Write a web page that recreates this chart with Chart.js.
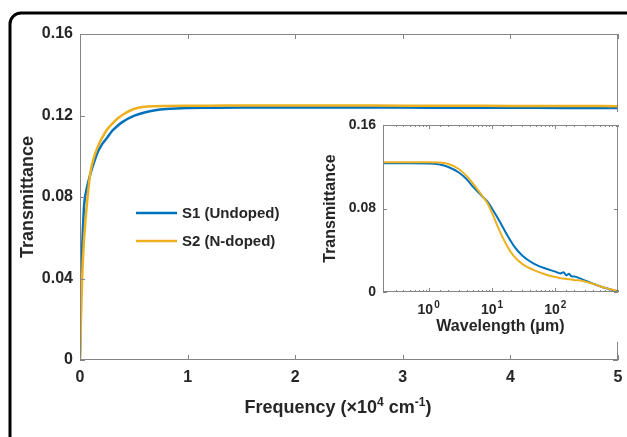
<!DOCTYPE html>
<html>
<head>
<meta charset="utf-8">
<script src="https://cdn.jsdelivr.net/npm/chart.js@4.4.1/dist/chart.umd.min.js"></script>
<style>
  body { margin: 0; background: #fff; }
  #wrap { position: relative; width: 627px; height: 437px; overflow: hidden; }
  #mainChart { position: absolute; left: 0; top: 0; }
  #insetChart { position: absolute; left: 318px; top: 112px; background: #fff; }
</style>
</head>
<body>
<div id="wrap">
  <canvas id="mainChart" width="627" height="437"></canvas>
  <canvas id="insetChart" width="301" height="230"></canvas>
</div>
<script>
// main panel: transmittance vs frequency (x10^4 cm-1)
const freq = [0, 0.005, 0.01, 0.02, 0.03, 0.04, 0.06, 0.08, 0.1, 0.13,
              0.16, 0.2, 0.25, 0.3, 0.35, 0.4, 0.5, 0.6, 0.7, 0.8,
              1.0, 1.2, 1.5, 2, 2.5, 3, 3.5, 4, 4.5, 5];
const s1Main = [0.002, 0.022, 0.036, 0.055, 0.068, 0.077, 0.0835, 0.088, 0.092, 0.097,
                0.1015, 0.1055, 0.109, 0.1125, 0.115, 0.117, 0.1198, 0.1215, 0.1226, 0.1232,
                0.1237, 0.1238, 0.1239, 0.1239, 0.1239, 0.1239, 0.1238, 0.1238, 0.1237, 0.1237];
const s2Main = [0, 0.01, 0.022, 0.04, 0.052, 0.061, 0.074, 0.085, 0.093, 0.0995,
                0.104, 0.1085, 0.113, 0.116, 0.1185, 0.1205, 0.1232, 0.1243, 0.1246, 0.1247,
                0.1248, 0.1248, 0.1249, 0.1249, 0.1249, 0.1248, 0.1248, 0.1247, 0.1247, 0.1246];

// inset: transmittance vs wavelength (um), log axis
const wl = [0.19, 0.5, 1, 1.5, 2, 3, 4, 5, 7, 8.5,
            10, 13, 17, 22, 30, 45, 70, 100, 120, 135,
            150, 165, 180, 200, 250, 300, 400, 600, 980];
const s1Inset = [0.1233, 0.1233, 0.1232, 0.1222, 0.1200, 0.1145, 0.1080, 0.1010, 0.0918, 0.0865,
                 0.0800, 0.0685, 0.0555, 0.0445, 0.0350, 0.0275, 0.0225, 0.0195, 0.0178, 0.0190,
                 0.0160, 0.0175, 0.0150, 0.0148, 0.0128, 0.0108, 0.0078, 0.0040, 0.0005];
const s2Inset = [0.1242, 0.1242, 0.1242, 0.1240, 0.1228, 0.1178, 0.1110, 0.1041, 0.0922, 0.0850,
                 0.0760, 0.0595, 0.0450, 0.0345, 0.0270, 0.0212, 0.0168, 0.0143, 0.0133, 0.0129,
                 0.0125, 0.0122, 0.0120, 0.0113, 0.0110, 0.0098, 0.0078, 0.0042, 0.0008];

const seriesNames = ['S1 (Undoped)', 'S2 (N-doped)'];
const mainXTicks = [0, 1, 2, 3, 4, 5];
const mainYTicks = [0, 0.04, 0.08, 0.12, 0.16];
const insetYTicks = [0, 0.08, 0.16];

const BLUE = '#0072BD';
const ORANGE = '#EDB120';
const AXIS = '#858585';
const TEXT = '#262626';
const FONT = "'Liberation Sans', Arial, sans-serif";

Chart.defaults.font.family = FONT;
Chart.defaults.font.weight = 'bold';
Chart.defaults.color = TEXT;

function pts(xs, ys) {
    return xs.map((x, i) => ({x: x, y: ys[i]}));
}

function fmtY(v) {
    return v === 0 ? '0' : v.toFixed(2);
}

function isPow10(v) {
    const l = Math.log10(v);
    return Math.abs(l - Math.round(l)) < 1e-9;
}

// fixed box sizes, no extra label padding
function fixW(w) {
    return s => { s.width = w; s.paddingTop = 0; s.paddingBottom = 0; };
}
function fixH(h) {
    return s => { s.height = h; s.paddingLeft = 0; s.paddingRight = 0; };
}

// box around the plot area plus inward ticks, matlab style
const boxTicks = {
    id: 'boxTicks',
    afterDatasetsDraw(chart, args, opts) {
        const {ctx, chartArea: a, scales} = chart;
        ctx.save();
        ctx.strokeStyle = AXIS;
        ctx.lineWidth = 1;
        ctx.strokeRect(a.left + 0.5, a.top + 0.5, a.right - a.left - 1, a.bottom - a.top - 1);
        ctx.beginPath();
        scales.x.ticks.forEach(t => {
            const px = Math.round(scales.x.getPixelForValue(t.value)) + 0.5;
            const len = (opts.log && !isPow10(t.value)) ? opts.minor : opts.major;
            ctx.moveTo(px, a.bottom); ctx.lineTo(px, a.bottom - len);
            ctx.moveTo(px, a.top); ctx.lineTo(px, a.top + len);
        });
        scales.y.ticks.forEach(t => {
            const py = Math.round(scales.y.getPixelForValue(t.value)) + 0.5;
            ctx.moveTo(a.left, py); ctx.lineTo(a.left + opts.major, py);
            ctx.moveTo(a.right, py); ctx.lineTo(a.right - opts.major, py);
        });
        ctx.stroke();

        // 10^n labels on a log axis, with a proper superscript
        if (opts.log) {
            ctx.fillStyle = TEXT;
            ctx.textBaseline = 'alphabetic';
            scales.x.ticks.filter(t => isPow10(t.value)).forEach(t => {
                const px = scales.x.getPixelForValue(t.value);
                const n = String(Math.round(Math.log10(t.value)));
                ctx.font = 'bold 14px ' + FONT;
                const wb = ctx.measureText('10').width;
                ctx.font = 'bold 10px ' + FONT;
                const ws = ctx.measureText(n).width;
                const x0 = px - (wb + ws + 1) / 2;
                ctx.font = 'bold 14px ' + FONT;
                ctx.fillText('10', x0, a.bottom + 22);
                ctx.font = 'bold 10px ' + FONT;
                ctx.fillText(n, x0 + wb + 1, a.bottom + 16);
            });
        }
        ctx.restore();
    }
};

// rounded frame around the figure
const frame = {
    id: 'frame',
    beforeDraw(chart) {
        const ctx = chart.ctx;
        ctx.save();
        ctx.strokeStyle = '#000';
        ctx.lineWidth = 3;
        ctx.beginPath();
        ctx.roundRect(10, 13, 640, 470, 11);
        ctx.stroke();
        ctx.restore();
    }
};

// legend inside the main axes
const lineLegend = {
    id: 'lineLegend',
    afterDraw(chart, args, opts) {
        const ctx = chart.ctx;
        ctx.save();
        ctx.font = 'bold 15px ' + FONT;
        ctx.textBaseline = 'middle';
        ctx.fillStyle = TEXT;
        chart.data.datasets.forEach((ds, i) => {
            const y = opts.y + i * opts.rowH;
            ctx.strokeStyle = ds.borderColor;
            ctx.lineWidth = 2.5;
            ctx.beginPath();
            ctx.moveTo(opts.x, y);
            ctx.lineTo(opts.x + opts.len, y);
            ctx.stroke();
            ctx.fillText(ds.label, opts.x + opts.len + 5, y + 1);
        });
        ctx.restore();
    }
};

// x title with real superscripts
const richXTitle = {
    id: 'richXTitle',
    afterDraw(chart, args, opts) {
        const ctx = chart.ctx;
        const parts = opts.parts;
        ctx.save();
        ctx.fillStyle = TEXT;
        ctx.textBaseline = 'alphabetic';
        let w = 0;
        parts.forEach(p => {
            ctx.font = 'bold ' + (p.sup ? 12 : 18) + 'px ' + FONT;
            p.w = ctx.measureText(p.t).width;
            w += p.w;
        });
        let x = opts.cx - w / 2;
        parts.forEach(p => {
            ctx.font = 'bold ' + (p.sup ? 12 : 18) + 'px ' + FONT;
            ctx.fillText(p.t, x, opts.baseline - (p.sup ? 7 : 0));
            x += p.w;
        });
        ctx.restore();
    }
};

const mainChart = new Chart(document.getElementById('mainChart'), {
    type: 'line',
    data: {
        datasets: [
            {label: seriesNames[0], data: pts(freq, s1Main), borderColor: BLUE, borderWidth: 2.5, order: 1},
            {label: seriesNames[1], data: pts(freq, s2Main), borderColor: ORANGE, borderWidth: 2.5, order: 0}
        ]
    },
    options: {
        responsive: false,
        devicePixelRatio: 1,
        animation: false,
        layout: {padding: {top: 34, right: 9, left: 0, bottom: 0}},
        elements: {point: {radius: 0}, line: {cubicInterpolationMode: 'monotone'}},
        plugins: {
            legend: {display: false},
            tooltip: {enabled: false},
            boxTicks: {major: 5, minor: 3, log: false},
            lineLegend: {x: 136, y: 213, len: 41, rowH: 28},
            richXTitle: {
                cx: 338, baseline: 413,
                parts: [{t: 'Frequency ('}, {t: '×10'}, {t: '4', sup: true}, {t: ' cm'}, {t: '-1', sup: true}, {t: ')'}]
            }
        },
        scales: {
            x: {
                type: 'linear', min: 0, max: 5,
                afterBuildTicks: s => { s.ticks = mainXTicks.map(v => ({value: v})); },
                afterFit: fixH(77),
                grid: {display: false, drawTicks: false},
                border: {display: false},
                ticks: {font: {size: 16}, padding: 8},
                title: {display: false}
            },
            y: {
                min: 0, max: 0.16,
                afterBuildTicks: s => { s.ticks = mainYTicks.map(v => ({value: v})); },
                afterFit: fixW(80),
                grid: {display: false, drawTicks: false},
                border: {display: false},
                ticks: {font: {size: 16}, padding: 7, callback: fmtY},
                title: {display: true, text: 'Transmittance', font: {size: 18}, padding: {top: 17}}
            }
        }
    },
    plugins: [frame, boxTicks, lineLegend, richXTitle]
});

const insetChart = new Chart(document.getElementById('insetChart'), {
    type: 'line',
    data: {
        datasets: [
            {label: seriesNames[0], data: pts(wl, s1Inset), borderColor: BLUE, borderWidth: 2, order: 1},
            {label: seriesNames[1], data: pts(wl, s2Inset), borderColor: ORANGE, borderWidth: 2, order: 0}
        ]
    },
    options: {
        responsive: false,
        devicePixelRatio: 1,
        animation: false,
        layout: {padding: {top: 13, right: 1, left: 0, bottom: 0}},
        elements: {point: {radius: 0}, line: {cubicInterpolationMode: 'monotone'}},
        plugins: {
            legend: {display: false},
            tooltip: {enabled: false},
            boxTicks: {major: 4, minor: 2, log: true}
        },
        scales: {
            x: {
                type: 'logarithmic', min: 0.19, max: 980,
                afterFit: fixH(50),
                grid: {display: false, drawTicks: false},
                border: {display: false},
                ticks: {display: false},
                title: {display: true, text: 'Wavelength (μm)', font: {size: 16}, padding: {top: 0, bottom: 6}}
            },
            y: {
                min: 0, max: 0.16,
                afterBuildTicks: s => { s.ticks = insetYTicks.map(v => ({value: v})); },
                afterFit: fixW(65),
                grid: {display: false, drawTicks: false},
                border: {display: false},
                ticks: {font: {size: 14}, padding: 7, callback: fmtY},
                title: {display: true, text: 'Transmittance', font: {size: 16}, padding: {top: 3}}
            }
        }
    },
    plugins: [boxTicks]
});
</script>
</body>
</html>
